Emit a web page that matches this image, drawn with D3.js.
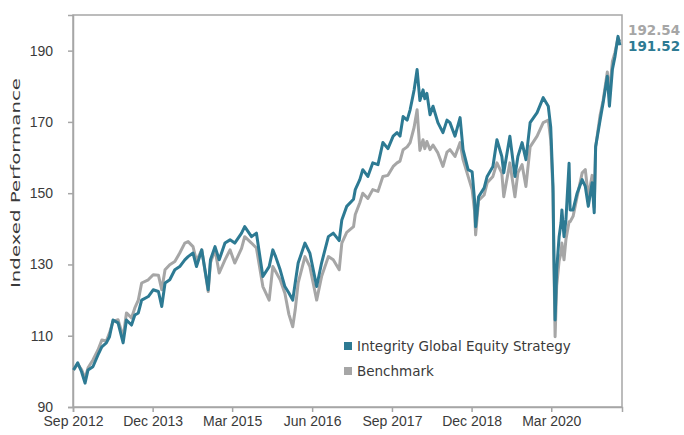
<!DOCTYPE html>
<html lang="en">
<head>
  <meta charset="UTF-8">
  <title>Indexed Performance</title>
  <style>
    body { margin: 0; background: #fff; font-family: "DejaVu Sans", sans-serif; }
    .tick text { fill: #3a3a3a; font-size: 14px; }
    .line { fill: none; stroke-width: 3; stroke-linejoin: round; }
  </style>
</head>
<body>
<div id="chart"></div>
<script src="https://d3js.org/d3.v7.min.js"></script>
<script>
// data
const dates = [
  "2012-09-04","2012-09-28","2012-10-20","2012-11-09","2012-11-26","2012-12-24",
  "2013-01-22","2013-02-13","2013-03-11","2013-03-29","2013-04-18","2013-05-17",
  "2013-06-15","2013-07-04","2013-08-02","2013-08-21","2013-09-10","2013-09-29",
  "2013-11-06","2013-12-04","2014-01-03","2014-01-22","2014-02-10","2014-03-09",
  "2014-04-07","2014-05-05","2014-06-03","2014-06-22","2014-07-20","2014-08-09",
  "2014-09-08","2014-10-15","2014-10-28","2014-11-23","2014-12-17","2015-01-19",
  "2015-02-17","2015-03-16","2015-04-24","2015-05-12","2015-06-20","2015-07-18",
  "2015-08-24","2015-09-29","2015-10-20","2015-11-05","2015-12-01","2015-12-28",
  "2016-01-20","2016-02-11","2016-02-25","2016-03-13","2016-04-21","2016-05-19",
  "2016-06-27","2016-07-25","2016-09-02","2016-09-30","2016-11-03","2016-11-18",
  "2016-12-16","2017-01-24","2017-02-03","2017-03-01","2017-03-18","2017-04-16",
  "2017-05-14","2017-06-13","2017-07-11","2017-08-09","2017-09-08","2017-09-30",
  "2017-10-17","2017-11-04","2017-11-27","2017-12-14","2018-01-06","2018-01-23",
  "2018-02-08","2018-02-26","2018-03-08","2018-03-20","2018-04-07","2018-04-24",
  "2018-05-22","2018-06-20","2018-07-13","2018-07-30","2018-08-28","2018-09-26",
  "2018-10-13","2018-11-11","2018-12-04","2018-12-18","2018-12-24","2019-01-10",
  "2019-02-11","2019-02-28","2019-04-02","2019-04-25","2019-05-23","2019-06-03",
  "2019-07-08","2019-08-06","2019-08-23","2019-09-16","2019-10-08","2019-11-01",
  "2019-12-11","2020-01-15","2020-02-13","2020-02-27","2020-03-11","2020-03-16",
  "2020-03-23","2020-04-01","2020-04-15","2020-04-26","2020-05-01","2020-05-13",
  "2020-05-24","2020-06-11","2020-06-17","2020-07-04","2020-07-27","2020-08-25",
  "2020-09-12","2020-09-29","2020-10-21","2020-11-02","2020-11-10","2020-12-06",
  "2020-12-23","2021-01-16","2021-01-28","2021-02-14","2021-03-01","2021-03-18",
  "2021-03-29"
];
const strategy = [
  100.4,102.4,99.9,96.7,100.4,101.3,
  104.6,106.9,108.0,109.7,114.4,113.6,
  108.0,114.4,113.0,115.8,116.4,120.0,
  121.0,122.9,122.4,118.2,124.8,125.7,
  128.5,129.4,131.3,132.2,133.2,129.4,
  134.1,122.9,131.3,135.0,131.3,136.0,
  136.9,136.0,138.8,140.6,137.8,138.8,
  126.6,129.4,134.1,132.2,128.5,123.8,
  122.0,120.0,124.8,130.4,136.0,133.2,
  123.8,130.4,137.8,138.8,136.7,142.5,
  146.3,148.3,151.0,153.8,156.6,154.7,
  158.5,158.0,164.2,162.5,166.0,167.0,
  166.0,171.5,170.5,173.4,179.0,184.7,
  176.0,179.0,176.5,178.0,172.0,174.4,
  169.8,167.0,170.5,169.8,166.0,171.2,
  162.2,156.6,156.0,148.0,140.6,149.0,
  151.5,154.7,157.5,165.0,160.3,155.7,
  166.0,154.7,160.3,164.2,159.4,169.8,
  172.6,176.8,174.4,168.5,151.9,133.0,
  114.4,128.5,137.8,141.7,145.3,137.8,
  142.5,158.4,145.3,145.3,150.0,153.8,
  151.9,146.3,152.9,144.5,163.0,170.6,
  175.4,182.8,174.4,184.7,188.4,194.0,
  191.52
];
const benchmark = [
  100.4,102.0,100.5,98.0,101.0,103.2,
  106.0,108.8,108.5,110.8,114.0,114.5,
  109.5,116.4,115.0,117.8,120.0,124.8,
  125.7,127.1,127.0,122.9,128.5,129.9,
  130.8,133.2,136.0,136.4,135.0,131.0,
  134.1,122.4,130.5,134.1,127.6,131.3,
  134.1,130.4,134.5,137.8,136.0,134.6,
  123.8,120.0,129.4,128.0,125.7,121.9,
  116.0,112.5,117.2,124.8,132.2,129.4,
  120.0,126.6,132.2,131.3,128.5,136.0,
  139.0,140.6,144.0,147.3,150.0,148.5,
  151.0,150.5,154.7,155.0,157.5,158.5,
  159.0,162.2,163.0,164.2,168.5,173.4,
  162.0,165.0,162.5,164.5,162.2,163.5,
  161.3,157.5,161.5,162.2,160.3,164.2,
  159.4,154.7,151.0,145.0,138.3,148.0,
  149.5,152.9,154.7,158.5,155.6,149.0,
  158.5,149.0,155.7,158.0,151.9,163.0,
  166.0,169.8,170.5,165.0,150.0,131.0,
  109.7,124.0,131.0,133.2,136.0,131.3,
  137.0,142.0,142.0,143.5,149.0,155.7,
  156.6,149.0,155.0,146.0,163.0,172.0,
  176.0,184.0,178.0,187.0,189.5,193.5,
  192.54
];
const yTicks = [90, 110, 130, 150, 170, 190];
const xTicks = ["2012-09-01","2013-12-01","2015-03-01","2016-06-01","2017-09-01","2018-12-01","2020-03-01"];
const seriesNames = ["Integrity Global Equity Strategy", "Benchmark"];
const colors = ["#2d7a93", "#a6a6a6"];

const width = 684, height = 435;
const margin = {top: 15, right: 62, bottom: 28, left: 73};
const parse = d3.timeParse("%Y-%m-%d");

const svg = d3.select("#chart").append("svg")
  .attr("width", width).attr("height", height);

const x = d3.scaleTime()
  .domain([parse("2012-09-01"), parse("2021-04-10")])
  .range([margin.left, width - margin.right]);
const y = d3.scaleLinear()
  .domain([90, 200])
  .range([height - margin.bottom, margin.top]);

// plot frame (top and right sides)
svg.append("rect")
  .attr("x", margin.left).attr("y", margin.top)
  .attr("width", width - margin.right - margin.left)
  .attr("height", height - margin.bottom - margin.top)
  .attr("fill", "none").attr("stroke", "#a6a6a6").attr("stroke-width", 1.5);

const xAxis = svg.append("g")
  .attr("transform", `translate(0,${height - margin.bottom})`)
  .call(d3.axisBottom(x).tickValues(xTicks.map(parse))
    .tickFormat(d3.timeFormat("%b %Y")).tickSize(5).tickPadding(4));
const yAxis = svg.append("g")
  .attr("transform", `translate(${margin.left},0)`)
  .call(d3.axisLeft(y).tickValues(yTicks).tickSize(5).tickPadding(15));
[xAxis, yAxis].forEach(g => {
  g.select(".domain").attr("stroke", "#a6a6a6").attr("stroke-width", 1.5);
  g.selectAll(".tick line").attr("stroke", "#a6a6a6").attr("stroke-width", 1.5);
});

svg.append("text")
  .attr("transform", "translate(20,183) rotate(-90)")
  .attr("text-anchor", "middle")
  .attr("fill", "#3a3a3a").attr("font-size", 12.5)
  .attr("textLength", 210).attr("lengthAdjust", "spacingAndGlyphs")
  .text("Indexed Performance");

const rows = dates.map((d, i) => ({date: parse(d), s: strategy[i], b: benchmark[i]}));

const line = key => d3.line().x(d => x(d.date)).y(d => y(d[key]));

svg.append("path").datum(rows).attr("class", "line")
  .attr("stroke", colors[1]).attr("d", line("b"));
svg.append("path").datum(rows).attr("class", "line")
  .attr("stroke", colors[0]).attr("d", line("s"));

// end labels
const last = rows[rows.length - 1];
svg.append("text").attr("x", 628).attr("y", 35)
  .attr("fill", colors[1]).attr("font-size", 13.5).attr("font-weight", "bold")
  .text(last.b.toFixed(2));
svg.append("text").attr("x", 628).attr("y", 51)
  .attr("fill", colors[0]).attr("font-size", 13.5).attr("font-weight", "bold")
  .text(last.s.toFixed(2));

// legend
const legend = svg.append("g").attr("transform", "translate(344,342)");
seriesNames.forEach((name, i) => {
  const g = legend.append("g").attr("transform", `translate(0,${i * 25})`);
  g.append("rect").attr("width", 8).attr("height", 8).attr("fill", colors[i]);
  g.append("text").attr("x", 13).attr("y", 9)
    .attr("fill", "#3a3a3a").attr("font-size", 13.5).text(name);
});
</script>
</body>
</html>
